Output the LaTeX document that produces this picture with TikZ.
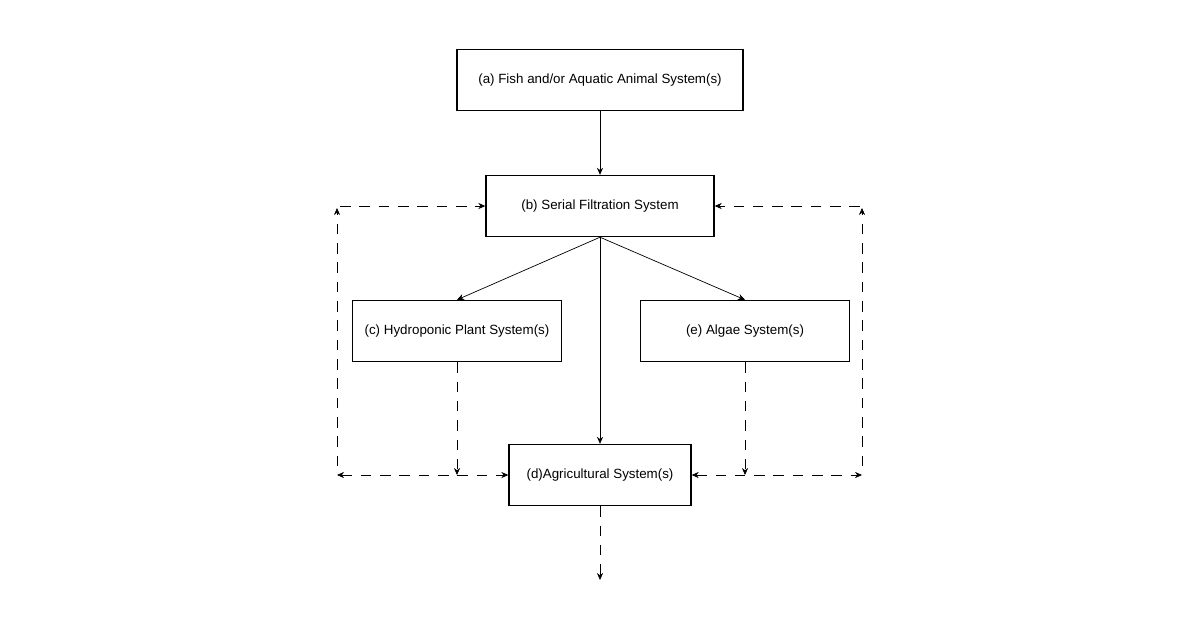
\documentclass[tikz,border=0pt]{standalone}
\usepackage{fontspec}
\setmainfont{Liberation Sans}
\usetikzlibrary{arrows.meta, positioning}

\tikzset{
  sys/.style={draw, thick, minimum height=1.22cm, font=\fontsize{7.6}{9}\selectfont, inner sep=0pt},
  flow/.style={-{Stealth[length=4pt, width=3.5pt]}, thin},
  loop/.style={flow, dashed, dash pattern=on 6pt off 5pt}
}

\begin{document}
\begin{tikzpicture}[x=0.02cm, y=-0.02cm]
	\useasboundingbox (0,0) rectangle (1200,630);

	% Draw the boxes
	\node[sys, minimum width=5.72cm] (fish) at (600,80) {(a) Fish and/or Aquatic Animal System(s)};
	\node[sys, minimum width=4.56cm] (filter) at (600,206) {(b) Serial Filtration System};
	\node[sys, minimum width=4.18cm] (plant) at (457,331) {(c) Hydroponic Plant System(s)};
	\node[sys, minimum width=4.18cm] (algae) at (745,331) {(e) Algae System(s)};
	\node[sys, minimum width=3.64cm] (agri) at (600,475) {(d)Agricultural System(s)};

	% Corner points of the dashed loops
	\coordinate (lb) at (337,475);
	\coordinate (lt) at (337,208);
	\coordinate (ltr) at (340,206);
	\coordinate (rb) at (862,475);
	\coordinate (rt) at (862,208);
	\coordinate (rtl) at (860,206);
	\coordinate (out) at (600,580);

	% Solid connectors
	\draw[flow] (fish) -- (filter);
	\draw[flow] (filter.south) -- (plant.north);
	\draw[flow] (filter.south) -- (algae.north);
	\draw[flow] (filter.south) -- (agri.north);

	% Dashed connectors
	\draw[loop] (plant.south) -- (plant.south |- agri.west);
	\draw[loop] (algae.south) -- (algae.south |- agri.east);
	\draw[loop, {Stealth[length=4pt, width=3.5pt]}-{Stealth[length=4pt, width=3.5pt]}] (lb) -- (agri.west);
	\draw[loop, {Stealth[length=4pt, width=3.5pt]}-{Stealth[length=4pt, width=3.5pt]}] (agri.east) -- (rb);
	\draw[loop] ([yshift=5]lb) -- (lt);
	\draw[loop] ([yshift=5]rb) -- (rt);
	\draw[loop] (ltr) -- (filter.west);
	\draw[loop] (rtl) -- (filter.east);
	\draw[loop] (agri.south) -- (out);
\end{tikzpicture}
\end{document}
